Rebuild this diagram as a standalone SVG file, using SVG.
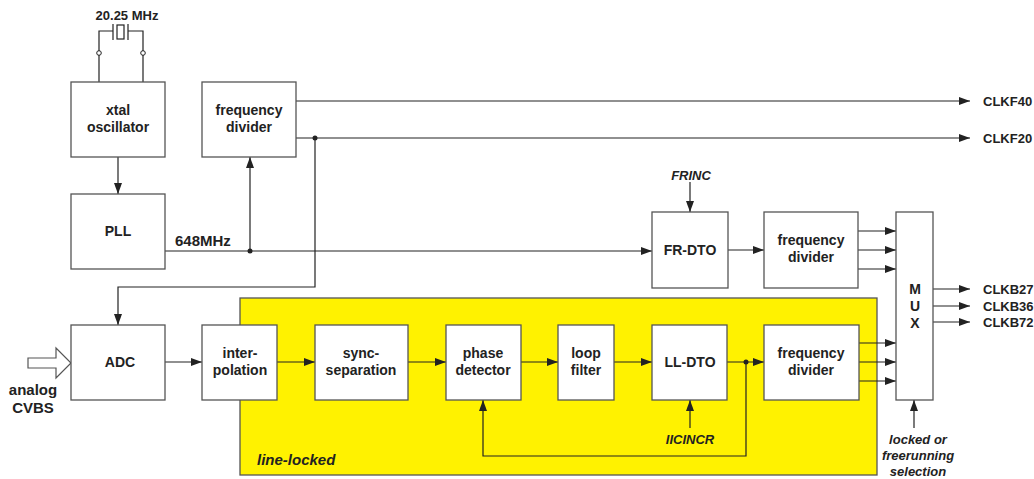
<svg xmlns="http://www.w3.org/2000/svg" width="1034" height="479" viewBox="0 0 1034 479">
<style>
.box{fill:#fff;stroke:#555;stroke-width:1.3}
.t{font-family:"Liberation Sans",Arial,sans-serif;font-weight:bold;font-size:14px;fill:#222;text-anchor:middle}
.s{font-size:13px}
.i{font-style:italic}
.l{text-anchor:start}
.c{fill:none;stroke:#222;stroke-width:1.2}
.a{marker-end:url(#ah)}
.dot{fill:#222}
</style>
<defs>
<marker id="ah" markerUnits="userSpaceOnUse" markerWidth="12" markerHeight="10" refX="11" refY="4" orient="auto">
<path d="M0,0 L11,4 L0,8 Z" fill="#222"/>
</marker>
</defs>
<rect x="240" y="298" width="637" height="177" fill="#fff200" stroke="#555" stroke-width="1.3"/>
<text class="t i l" x="257" y="465" style="font-size:15px">line-locked</text>
<g id="connectors">
<path class="c" d="M99,82 V55 M99,51 V31 H113 M113,24 V40 M128,24 V40 M128,31 H143 V51 M143,55 V82"/>
<rect x="117" y="25" width="7" height="14" fill="#fff" stroke="#222" stroke-width="1.2"/>
<circle cx="99" cy="53" r="2.3" fill="#fff" stroke="#222" stroke-width="1"/>
<circle cx="143" cy="53" r="2.3" fill="#fff" stroke="#222" stroke-width="1"/>
<path class="c a" d="M118,157 V194"/>
<path class="c a" d="M165,251 H652"/>
<path class="c a" d="M250,251 V157"/>
<path class="c a" d="M296,101 H970"/>
<path class="c a" d="M296,138 H970"/>
<path class="c a" d="M315,138 V287 H118 V325"/>
<path class="c a" d="M690,182 V212"/>
<path class="c a" d="M728,250 H764"/>
<path class="c a" d="M858,231 H896"/>
<path class="c a" d="M858,250 H896"/>
<path class="c a" d="M858,269 H896"/>
<path class="c a" d="M933,289 H970"/>
<path class="c a" d="M933,306 H970"/>
<path class="c a" d="M933,322 H970"/>
<path class="c a" d="M165,362 H202"/>
<path class="c a" d="M277,362 H315"/>
<path class="c a" d="M408,362 H446"/>
<path class="c a" d="M521,362 H558"/>
<path class="c a" d="M614,362 H652"/>
<path class="c a" d="M727,362 H764"/>
<path class="c a" d="M746,362 V456 H483 V400"/>
<path class="c a" d="M690,428 V400"/>
<path class="c a" d="M914,428 V400"/>
<path class="c a" d="M858,343 H896"/>
<path class="c a" d="M858,362 H896"/>
<path class="c a" d="M858,381 H896"/>
<polygon points="28,358 56,358 56,348 71,363 56,378 56,368 28,368" fill="#fff" stroke="#555" stroke-width="1.2"/>
<circle class="dot" cx="250" cy="251" r="2.5"/>
<circle class="dot" cx="315" cy="138" r="2.5"/>
<circle class="dot" cx="746" cy="362" r="2.5"/>
</g>
<g id="labels">
<text class="t s" x="127" y="20">20.25 MHz</text>
<text class="t l" x="175" y="246" style="font-size:15px">648MHz</text>
<text class="t s i" x="691" y="180">FRINC</text>
<text class="t s i" x="690" y="444">IICINCR</text>
<text class="t s i" x="918" y="444">locked or</text>
<text class="t s i" x="918" y="460">freerunning</text>
<text class="t s i" x="918" y="476">selection</text>
<text class="t s l" x="983" y="106">CLKF40</text>
<text class="t s l" x="983" y="143">CLKF20</text>
<text class="t s l" x="983" y="294">CLKB27</text>
<text class="t s l" x="983" y="311">CLKB36</text>
<text class="t s l" x="983" y="327">CLKB72</text>
<text class="t" x="33" y="395" style="font-size:15px">analog</text>
<text class="t" x="33" y="413" style="font-size:15px">CVBS</text>
</g>
<g id="xtal"><rect class="box" x="71" y="82" width="94" height="75"/><text class="t" x="118" y="115">xtal</text><text class="t" x="118" y="132">oscillator</text></g>
<g id="pll"><rect class="box" x="71" y="194" width="94" height="75"/><text class="t" x="118" y="236">PLL</text></g>
<g id="fdiv1"><rect class="box" x="202" y="82" width="94" height="75"/><text class="t" x="249" y="115">frequency</text><text class="t" x="249" y="132">divider</text></g>
<g id="frdto"><rect class="box" x="652" y="212" width="76" height="76"/><text class="t" x="690" y="255">FR-DTO</text></g>
<g id="fdiv2"><rect class="box" x="764" y="212" width="94" height="76"/><text class="t" x="811" y="245">frequency</text><text class="t" x="811" y="262">divider</text></g>
<g id="mux"><rect class="box" x="896" y="212" width="37" height="188"/><text class="t" x="915" y="294">M</text><text class="t" x="915" y="311">U</text><text class="t" x="915" y="328">X</text></g>
<g id="adc"><rect class="box" x="71" y="325" width="94" height="75"/><text class="t" x="120" y="367">ADC</text></g>
<g id="interp"><rect class="box" x="202" y="325" width="75" height="75"/><text class="t" x="240" y="358">inter-</text><text class="t" x="240" y="375">polation</text></g>
<g id="sync"><rect class="box" x="315" y="325" width="93" height="75"/><text class="t" x="361" y="358">sync-</text><text class="t" x="361" y="375">separation</text></g>
<g id="phase"><rect class="box" x="446" y="325" width="75" height="75"/><text class="t" x="483" y="358">phase</text><text class="t" x="483" y="375">detector</text></g>
<g id="loop"><rect class="box" x="558" y="325" width="56" height="75"/><text class="t" x="586" y="358">loop</text><text class="t" x="586" y="375">filter</text></g>
<g id="lldto"><rect class="box" x="652" y="325" width="75" height="75"/><text class="t" x="690" y="367">LL-DTO</text></g>
<g id="fdiv3"><rect class="box" x="764" y="325" width="95" height="75"/><text class="t" x="811" y="358">frequency</text><text class="t" x="811" y="375">divider</text></g>
</svg>
